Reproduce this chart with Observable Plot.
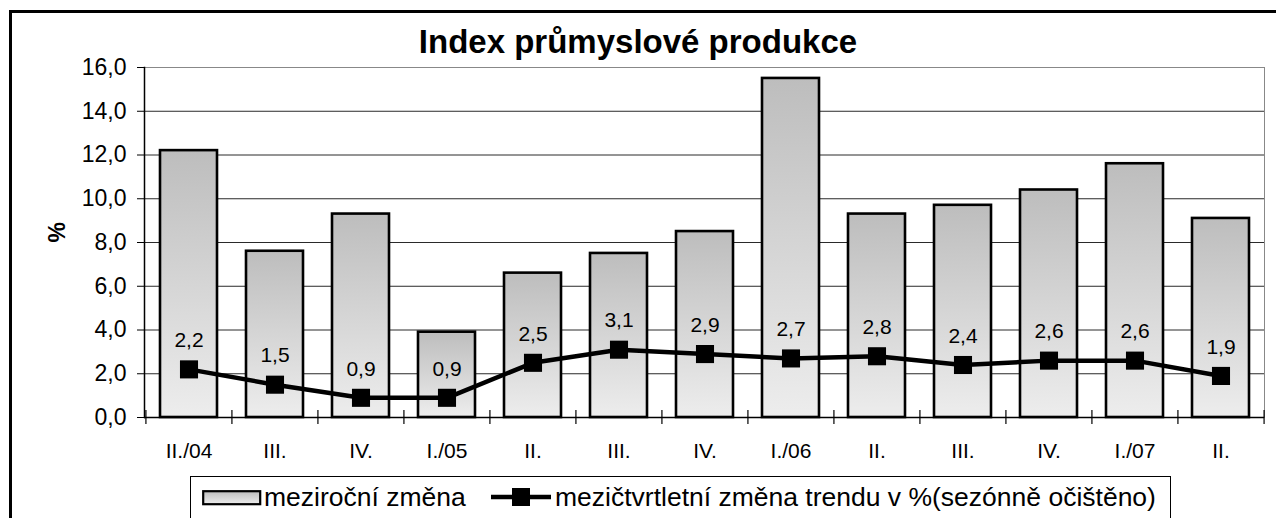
<!DOCTYPE html>
<html>
<head>
<meta charset="utf-8">
<script src="https://cdn.jsdelivr.net/npm/d3@7"></script>
<script src="https://cdn.jsdelivr.net/npm/@observablehq/plot@0.6"></script>
<style>
  html, body { margin: 0; padding: 0; background: #fff; }
  body { width: 1276px; height: 518px; position: relative; overflow: hidden; font-family: "Liberation Sans", Arial, sans-serif; }
  #outer { position: absolute; left: 9px; top: 10px; width: 1300px; height: 600px; border: 3px solid #000; box-sizing: border-box; }
  #title { position: absolute; left: 0; width: 1276px; top: 22px; text-align: center; font-weight: bold; font-size: 33px; line-height: 40px; }
  #chart { position: absolute; left: 0; top: 0; }
  #legend { position: absolute; left: 190px; top: 476px; width: 981px; height: 60px; border: 1px solid #000; box-sizing: border-box; background: #fff; }
  .abs { position: absolute; }
  .ltext { position: absolute; font-size: 26.5px; line-height: 30px; top: 482px; white-space: nowrap; }
</style>
</head>
<body>
<svg width="0" height="0" style="position:absolute">
  <defs>
    <linearGradient id="barGrad" x1="0" y1="0" x2="0" y2="1">
      <stop offset="0" stop-color="#bdbdbd"/>
      <stop offset="1" stop-color="#ededed"/>
    </linearGradient>
  </defs>
</svg>
<div id="outer"></div>
<div id="chart"></div>
<div id="title">Index průmyslové produkce</div>
<div id="legend"></div>
<div id="legendItems"></div>
<script>
const categories = ["II./04","III.","IV.","I./05","II.","III.","IV.","I./06","II.","III.","IV.","I./07","II."];
const yearlyChange = [12.2, 7.6, 9.3, 3.9, 6.6, 7.5, 8.5, 15.5, 9.3, 9.7, 10.4, 11.6, 9.1];
const trendChange = [2.2, 1.5, 0.9, 0.9, 2.5, 3.1, 2.9, 2.7, 2.8, 2.4, 2.6, 2.6, 1.9];
const yTicks = [0, 2, 4, 6, 8, 10, 12, 14, 16];
const seriesNames = ["meziroční změna", "mezičtvrtletní změna trendu v %(sezónně očištěno)"];
const yLabel = "%";

const fmt = v => v.toFixed(1).replace(".", ",");
const data = categories.map((c, i) => ({i, label: c, yoy: yearlyChange[i], trend: trendChange[i]}));

const W = 1276, H = 518, ML = 144, MR = 12, MT = 67, MB = 101;
const step = (W - ML - MR) / categories.length;

const plot = Plot.plot({
  width: W,
  height: H,
  marginLeft: ML,
  marginRight: MR,
  marginTop: MT,
  marginBottom: MB,
  style: {background: "transparent", fontFamily: "'Liberation Sans', Arial, sans-serif", fontSize: "21px", color: "#000"},
  x: {type: "band", domain: d3.range(categories.length), paddingInner: 0.34, paddingOuter: 0.17},
  y: {domain: [0, 16]},
  marks: [
    Plot.ruleY(yTicks, {stroke: "#2a2a2a", strokeWidth: 1}),
    Plot.frame({stroke: "#888", strokeWidth: 1}),
    Plot.barY(data, {x: "i", y: "yoy", fill: "url(#barGrad)", stroke: "#000", strokeWidth: 2.6}),
    Plot.ruleY([0], {stroke: "#000", strokeWidth: 1.5}),
    Plot.frame({anchor: "left", stroke: "#000", strokeWidth: 1.5}),
    Plot.ruleX(data, {x: "i", y1: 0, y2: 0, dx: -step / 2, insetTop: -7, insetBottom: -7, stroke: "#000", strokeWidth: 1.2}),
    Plot.ruleX(data.slice(-1), {x: "i", y1: 0, y2: 0, dx: step / 2, insetTop: -7, insetBottom: -7, stroke: "#000", strokeWidth: 1.2}),
    Plot.line(data, {x: "i", y: "trend", stroke: "#000", strokeWidth: 4.5}),
    Plot.dot(data, {x: "i", y: "trend", symbol: "square", r: 10.2, fill: "#000", stroke: "none"}),
    Plot.text(data, {x: "i", y: "trend", text: d => fmt(d.trend), dy: -29, fontSize: 21, fill: "#000"}),
    Plot.axisY(yTicks, {tickSize: 7, tickPadding: 11, tickFormat: fmt, fontSize: 23, label: null}),
    Plot.axisX({tickSize: 0, tickPadding: 26, tickFormat: i => categories[i], fontSize: 21, label: null}),
    Plot.text([yLabel], {frameAnchor: "left", dx: -87, rotate: -90, fontWeight: "bold", fontSize: 23, fill: "#000"})
  ]
});
document.getElementById("chart").appendChild(plot);

document.getElementById("legendItems").innerHTML = `
  <svg class="abs" style="left:202px;top:490px" width="60" height="16"><rect x="1.2" y="1.2" width="57" height="13" fill="url(#barGrad)" stroke="#000" stroke-width="2.2"/></svg>
  <div class="ltext" style="left:264px">${seriesNames[0]}</div>
  <svg class="abs" style="left:491px;top:487px" width="60" height="20"><line x1="0" y1="10" x2="60" y2="10" stroke="#000" stroke-width="4.5"/><rect x="21" y="1" width="18" height="18" fill="#000"/></svg>
  <div class="ltext" style="left:555px">${seriesNames[1]}</div>`;
</script>
</body>
</html>
